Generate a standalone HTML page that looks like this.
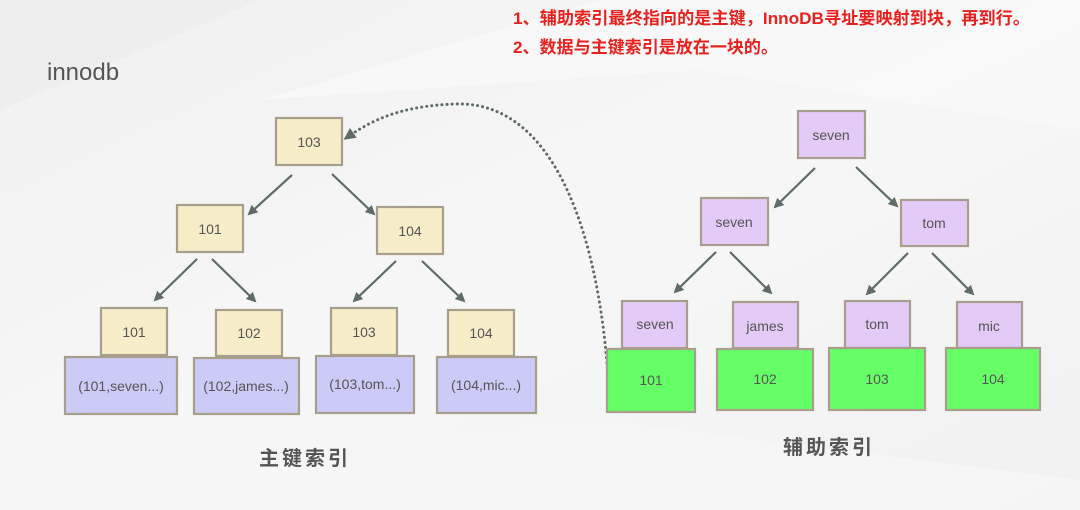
<!DOCTYPE html>
<html><head><meta charset="utf-8"><style>
html,body{margin:0;padding:0;width:1080px;height:510px;overflow:hidden;background:#f3f3f3}
svg{display:block}
text{font-family:"Liberation Sans","Noto Sans CJK SC",sans-serif}
</style></head><body>
<svg width="1080" height="510" viewBox="0 0 1080 510" xmlns="http://www.w3.org/2000/svg">
<defs>
<linearGradient id="bg" x1="0" y1="0" x2="1" y2="1">
<stop offset="0" stop-color="#f0f0f0"/><stop offset="0.5" stop-color="#f7f7f7"/><stop offset="1" stop-color="#f1f1f1"/></linearGradient>
<marker id="ah" markerWidth="10" markerHeight="10" refX="8" refY="5" orient="auto" markerUnits="userSpaceOnUse">
<path d="M0,0 L10,5 L0,10 Z" fill="#5e6b66"/></marker>
<marker id="ah2" markerWidth="12" markerHeight="12" refX="9" refY="6" orient="auto" markerUnits="userSpaceOnUse">
<path d="M0,0 L12,6 L0,12 Z" fill="#5e6b66"/></marker>
</defs>
<rect width="1080" height="510" fill="url(#bg)"/>
<polygon points="0,0 260,0 0,110" fill="#ebebeb" opacity="0.6"/>
<polygon points="260,100 600,0 1080,0 1080,130 700,70" fill="#fafafa" opacity="0.7"/>
<polygon points="0,460 600,420 1080,480 1080,510 0,510" fill="#f6f6f6" opacity="0.8"/>

<text x="47" y="80" font-size="24" fill="#555">innodb</text>
<text x="513" y="24" font-size="17" font-weight="bold" fill="#e8201e" textLength="517" lengthAdjust="spacingAndGlyphs">1、辅助索引最终指向的是主键，InnoDB寻址要映射到块，再到行。</text>
<text x="513" y="53" font-size="17" font-weight="bold" fill="#e8201e" textLength="265" lengthAdjust="spacingAndGlyphs">2、数据与主键索引是放在一块的。</text>

<g stroke="#5e6b66" stroke-width="2.2" marker-end="url(#ah)">
<line x1="292" y1="175" x2="249" y2="214"/>
<line x1="332" y1="174" x2="374" y2="214"/>
<line x1="197" y1="259" x2="155" y2="300"/>
<line x1="212" y1="259" x2="255" y2="301"/>
<line x1="396" y1="261" x2="354" y2="301"/>
<line x1="422" y1="261" x2="464" y2="301"/>
<line x1="815" y1="168" x2="775" y2="207"/>
<line x1="856" y1="167" x2="897" y2="206"/>
<line x1="716" y1="252" x2="675" y2="292"/>
<line x1="730" y1="252" x2="771" y2="293"/>
<line x1="908" y1="253" x2="867" y2="294"/>
<line x1="932" y1="253" x2="973" y2="294"/>
</g>

<path d="M608,378 C600,250 560,100 455,104 C400,106 372,120 346,138" fill="none" stroke="#5e6b66" stroke-width="3" stroke-dasharray="0.1,5" stroke-linecap="round" marker-end="url(#ah2)"/>

<g stroke="#a79f8c" stroke-width="2.2" fill="#f7edc9">
<rect x="276" y="118" width="66" height="47"/>
<rect x="177" y="205" width="66" height="47"/>
<rect x="377" y="207" width="66" height="47"/>
<rect x="101" y="308" width="66" height="47"/>
<rect x="216" y="310" width="66" height="46"/>
<rect x="331" y="308" width="66" height="47"/>
<rect x="448" y="310" width="66" height="46"/>
</g>
<g stroke="#a79f8c" stroke-width="2.2" fill="#cccaf7">
<rect x="65" y="357" width="112" height="57"/>
<rect x="194" y="358" width="105" height="56"/>
<rect x="316" y="356" width="98" height="57"/>
<rect x="437" y="357" width="99" height="56"/>
</g>
<g stroke="#a79f8c" stroke-width="2.2" fill="#e4cbf7">
<rect x="798" y="111" width="67" height="47"/>
<rect x="701" y="198" width="67" height="47"/>
<rect x="901" y="200" width="67" height="46"/>
<rect x="622" y="301" width="65" height="47"/>
<rect x="733" y="302" width="65" height="46"/>
<rect x="845" y="301" width="65" height="47"/>
<rect x="957" y="302" width="65" height="46"/>
</g>
<g stroke="#a79f8c" stroke-width="2.2" fill="#66fe66">
<rect x="607" y="349" width="88" height="63"/>
<rect x="717" y="349" width="96" height="61"/>
<rect x="829" y="348" width="96" height="62"/>
<rect x="946" y="348" width="94" height="62"/>
</g>

<g font-size="14" fill="#555" text-anchor="middle">
<text x="309" y="147">103</text>
<text x="210" y="234">101</text>
<text x="410" y="236">104</text>
<text x="134" y="337">101</text>
<text x="249" y="338">102</text>
<text x="364" y="337">103</text>
<text x="481" y="338">104</text>
<text x="121" y="391">(101,seven...)</text>
<text x="246" y="391">(102,james...)</text>
<text x="365" y="389">(103,tom...)</text>
<text x="486" y="390">(104,mic...)</text>
<text x="831" y="140">seven</text>
<text x="734" y="227">seven</text>
<text x="934" y="228">tom</text>
<text x="655" y="329">seven</text>
<text x="765" y="331">james</text>
<text x="877" y="329">tom</text>
<text x="989" y="331">mic</text>
<text x="651" y="385">101</text>
<text x="765" y="384">102</text>
<text x="877" y="384">103</text>
<text x="993" y="384">104</text>
</g>
<text x="305" y="465" font-size="20" font-weight="bold" fill="#555" text-anchor="middle" letter-spacing="3">主键索引</text>
<text x="829" y="454" font-size="20" font-weight="bold" fill="#555" text-anchor="middle" letter-spacing="3">辅助索引</text>
</svg>
</body></html>
